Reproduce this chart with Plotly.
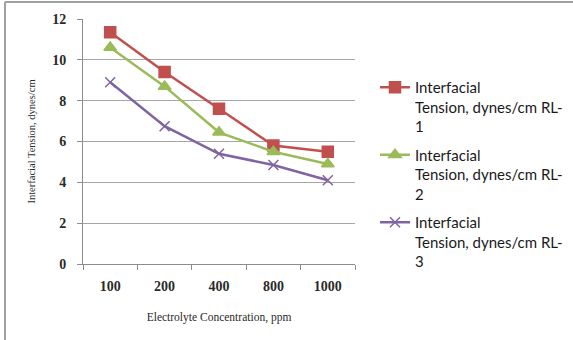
import plotly.graph_objects as go

# Electrolyte concentration categories (ppm)
concentrations = ["100", "200", "400", "800", "1000"]

# Interfacial tension (dynes/cm) for each sample
tension_rl1 = [11.35, 9.4, 7.6, 5.8, 5.5]
tension_rl2 = [10.6, 8.7, 6.45, 5.5, 4.9]
tension_rl3 = [8.9, 6.75, 5.4, 4.85, 4.1]

series_names = [
    "Interfacial<br>Tension, dynes/cm RL-<br>1",
    "Interfacial<br>Tension, dynes/cm RL-<br>2",
    "Interfacial<br>Tension, dynes/cm RL-<br>3",
]
y_ticks = [0, 2, 4, 6, 8, 10, 12]

styles = [
    dict(color="#C0504D", symbol="square", size=11),
    dict(color="#9BBB59", symbol="triangle-up", size=11),
    dict(color="#8064A2", symbol="x-thin", size=10),
]

fig = go.Figure()
for i, (name, vals, st) in enumerate(zip(series_names, [tension_rl1, tension_rl2, tension_rl3], styles)):
    fig.add_trace(go.Scatter(
        x=concentrations, y=vals, name=name, mode="lines+markers", legendgroup=f"g{i}",
        line=dict(color=st["color"], width=2.5),
        marker=dict(symbol=st["symbol"], size=st["size"], color=st["color"],
                    line=dict(color=st["color"], width=1.5)),
    ))

W, H = 573, 340
ml, mr, mt, mb = 83, 218, 19, 76
pw, ph = W - ml - mr, H - mt - mb

serif = "Liberation Serif, Times New Roman, serif"
fig.update_layout(
    width=W, height=H,
    margin=dict(l=ml, r=mr, t=mt, b=mb, autoexpand=False),
    paper_bgcolor="white", plot_bgcolor="white",
    showlegend=True,
    legend=dict(
        x=(375 - ml) / pw, y=1 - (71 - mt) / ph, xanchor="left", yanchor="top",
        font=dict(family="Lato, Calibri, sans-serif", size=15, color="#1a1a1a"),
        bgcolor="rgba(0,0,0,0)", itemwidth=30, tracegroupgap=6, valign="top",
    ),
    xaxis=dict(
        type="category", showgrid=False, showline=True, linecolor="#8c8c8c", linewidth=1,
        ticks="outside", tickson="boundaries", ticklen=5, tickcolor="#8c8c8c",
        tickfont=dict(family=serif, size=14, color="#2a2a2a", weight="bold"), ticklabelstandoff=9,
        title=dict(text="Electrolyte Concentration, ppm", standoff=20,
                   font=dict(family=serif, size=11.5, color="#2a2a2a")),
        range=[-0.5, 4.5], fixedrange=True,
    ),
    yaxis=dict(
        range=[0, 12], tickvals=y_ticks, showgrid=True, gridcolor="#a6a6a6", gridwidth=1,
        showline=True, linecolor="#8c8c8c", linewidth=1, zeroline=False,
        ticks="outside", ticklen=5, tickcolor="#8c8c8c",
        tickfont=dict(family=serif, size=14, color="#2a2a2a", weight="bold"), ticklabelstandoff=8,
        title=dict(text="Interfacial Tension, dynes/cm", standoff=14,
                   font=dict(family=serif, size=10.5, color="#2a2a2a")),
    ),
    shapes=[
        # outer chart frame (left and top edges visible)
        dict(type="line", xref="paper", yref="paper",
             x0=(5 - ml) / pw, x1=(5 - ml) / pw, y0=1 + (mt - 2) / ph, y1=1 - (H - mt) / ph,
             line=dict(color="#a0a0a0", width=2)),
        dict(type="line", xref="paper", yref="paper",
             x0=(5 - ml) / pw, x1=(W - ml) / pw, y0=1 + (mt - 2) / ph, y1=1 + (mt - 2) / ph,
             line=dict(color="#a0a0a0", width=2)),
    ],
)

fig.write_html("out.html")
